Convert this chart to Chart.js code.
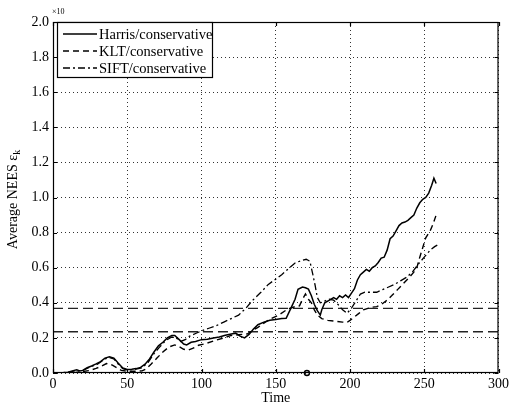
<!DOCTYPE html>
<html>
<head>
<meta charset="utf-8">
<script src="https://cdn.jsdelivr.net/npm/chart.js@4"></script>
<style>
  html, body { margin: 0; padding: 0; background: #fff; }
  #c { display: block; }
</style>
</head>
<body>
<canvas id="c" width="512" height="408"></canvas>
<script>
// Average NEES over time for three feature trackers (conservative update)
const harrisTime = [0, 5, 10, 13, 16, 18, 20, 23, 26, 29, 32, 35, 38, 41, 44, 47, 50, 53, 56, 59, 62, 65, 68, 71, 74, 77, 80, 82, 85, 88, 90, 93, 96, 100, 104, 108, 112, 116, 120, 123, 126, 129, 132, 135, 138, 142, 146, 150, 154, 157, 160, 163, 165, 168, 170, 172, 174, 176, 178, 180, 181, 183, 185, 187, 189, 191, 193, 195, 197, 199, 201, 203, 205, 207, 209, 211, 213, 215, 217, 219, 221, 223, 225, 227, 229, 231, 233, 235, 237, 239, 241, 243, 245, 247, 249, 251, 253, 255, 256.5, 258];
const harrisNees = [0, 0, 0.005, 0.012, 0.018, 0.012, 0.015, 0.03, 0.04, 0.052, 0.065, 0.085, 0.092, 0.085, 0.055, 0.028, 0.02, 0.021, 0.025, 0.032, 0.05, 0.08, 0.12, 0.155, 0.175, 0.2, 0.214, 0.214, 0.19, 0.165, 0.16, 0.175, 0.18, 0.19, 0.192, 0.2, 0.205, 0.215, 0.222, 0.227, 0.21, 0.2, 0.22, 0.25, 0.275, 0.29, 0.3, 0.305, 0.31, 0.312, 0.365, 0.42, 0.477, 0.49, 0.486, 0.478, 0.44, 0.39, 0.355, 0.33, 0.36, 0.4, 0.41, 0.42, 0.43, 0.42, 0.44, 0.43, 0.445, 0.43, 0.455, 0.48, 0.53, 0.56, 0.575, 0.59, 0.58, 0.6, 0.61, 0.63, 0.655, 0.66, 0.7, 0.765, 0.78, 0.81, 0.84, 0.855, 0.86, 0.87, 0.885, 0.9, 0.94, 0.97, 0.99, 1.0, 1.025, 1.07, 1.11, 1.08];

const kltTime = [0, 10, 15, 20, 25, 29, 33, 36, 40, 43, 46, 50, 55, 60, 63, 66, 70, 74, 78, 82, 85, 88, 91, 94, 98, 103, 109, 115, 120, 125, 131, 134, 138, 143, 147, 152, 158, 163, 166, 168, 170, 172, 174, 176, 178, 181, 185, 190, 195, 198, 200, 203, 206, 209, 212, 215, 218, 221, 225, 228, 232, 236, 240, 243, 245, 247, 249, 251, 254, 256, 258];
const kltNees = [0, 0, 0.003, 0.008, 0.015, 0.026, 0.04, 0.054, 0.045, 0.03, 0.015, 0.01, 0.01, 0.012, 0.025, 0.05, 0.085, 0.12, 0.148, 0.16, 0.15, 0.135, 0.13, 0.14, 0.158, 0.168, 0.185, 0.2, 0.214, 0.218, 0.223, 0.24, 0.26, 0.29, 0.31, 0.33, 0.364, 0.378, 0.383, 0.42, 0.45, 0.42, 0.4, 0.36, 0.33, 0.31, 0.3, 0.295, 0.29, 0.288, 0.3, 0.32, 0.34, 0.36, 0.368, 0.375, 0.378, 0.39, 0.415, 0.44, 0.475, 0.51, 0.545, 0.575, 0.6, 0.66, 0.715, 0.77, 0.81, 0.85, 0.9];

const siftTime = [0, 10, 15, 20, 25, 30, 35, 38, 41, 44, 47, 50, 55, 60, 64, 68, 72, 76, 80, 83, 86, 89, 92, 96, 100, 105, 110, 115, 120, 125, 130, 134, 140, 145, 150, 154, 158, 163, 167, 170.5, 173, 175, 176.5, 178, 180, 183, 186, 189, 192, 195, 198, 201, 204, 207, 210, 214, 218, 222, 226, 230, 234, 238, 242, 246, 250, 254, 257, 259];
const siftNees = [0, 0.004, 0.012, 0.014, 0.035, 0.05, 0.08, 0.088, 0.08, 0.05, 0.025, 0.018, 0.02, 0.03, 0.06, 0.11, 0.15, 0.185, 0.205, 0.2, 0.18, 0.19, 0.21, 0.225, 0.24, 0.255, 0.27, 0.29, 0.31, 0.33, 0.37, 0.41, 0.46, 0.505, 0.535, 0.56, 0.59, 0.627, 0.64, 0.648, 0.637, 0.56, 0.5, 0.43, 0.4, 0.41, 0.42, 0.415, 0.39, 0.36, 0.34, 0.37, 0.41, 0.45, 0.46, 0.46, 0.46, 0.475, 0.49, 0.505, 0.525, 0.545, 0.575, 0.62, 0.66, 0.7, 0.72, 0.73];

// Consistency bounds (upper / lower)
const boundUpper = 0.368;
const boundLower = 0.235;
const boundSpan = [0, 300];

// Marked time instant on the axis
const markerTime = [171];
const markerValue = [0];

const xTicks = [0, 50, 100, 150, 200, 250, 300];
const yTickStep = 0.2;
const seriesNames = ['Harris/conservative', 'KLT/conservative', 'SIFT/conservative'];

const toPoints = (xs, ys) => xs.map((x, i) => ({ x: x, y: ys[i] }));
const SERIF = '"Liberation Serif", "DejaVu Serif", serif';

const lineStyles = [
  { dash: [], width: 1.5 },
  { dash: [6, 4], width: 1.4 },
  { dash: [7, 3, 2, 3], width: 1.3 }
];

const frame = {
  id: 'frame',
  afterDatasetsDraw(chart) {
    const { ctx, chartArea: a, scales } = chart;
    ctx.save();
    // axes box
    ctx.strokeStyle = '#000';
    ctx.lineWidth = 1.2;
    ctx.setLineDash([]);
    ctx.strokeRect(a.left + 0.5, a.top + 0.5, a.right - a.left - 1, a.bottom - a.top - 1);
    // inward tick marks
    const tl = 4;
    ctx.beginPath();
    scales.x.ticks.forEach(t => {
      const px = Math.round(scales.x.getPixelForValue(t.value)) + 0.5;
      ctx.moveTo(px, a.bottom); ctx.lineTo(px, a.bottom - tl);
      ctx.moveTo(px, a.top); ctx.lineTo(px, a.top + tl);
    });
    scales.y.ticks.forEach(t => {
      const py = Math.round(scales.y.getPixelForValue(t.value)) + 0.5;
      ctx.moveTo(a.left, py); ctx.lineTo(a.left + tl, py);
      ctx.moveTo(a.right, py); ctx.lineTo(a.right - tl, py);
    });
    ctx.stroke();

    // legend
    const lx = 57, ly = 22, lw = 155, lh = 55;
    ctx.fillStyle = '#fff';
    ctx.fillRect(lx, ly, lw, lh);
    ctx.lineWidth = 1.2;
    ctx.strokeRect(lx + 0.5, ly + 0.5, lw, lh);
    ctx.font = '14.5px ' + SERIF;
    ctx.textBaseline = 'middle';
    ctx.textAlign = 'left';
    seriesNames.forEach((name, i) => {
      const yy = ly + 12 + i * 17;
      ctx.beginPath();
      ctx.setLineDash(lineStyles[i].dash);
      ctx.lineWidth = lineStyles[i].width;
      ctx.strokeStyle = '#000';
      ctx.moveTo(63, yy); ctx.lineTo(97, yy);
      ctx.stroke();
      ctx.setLineDash([]);
      ctx.fillStyle = '#000';
      ctx.fillText(name, 99, yy + 1);
    });

    // exponent
    ctx.font = '8px ' + SERIF;
    ctx.textBaseline = 'alphabetic';
    ctx.fillText('\u00d710', 52, 14);

    // axis titles
    ctx.font = '14px ' + SERIF;
    ctx.textAlign = 'center';
    ctx.textBaseline = 'middle';
    ctx.fillText('Time', (a.left + a.right) / 2, 398);

    ctx.translate(13, (a.top + a.bottom) / 2 + 2);
    ctx.rotate(-Math.PI / 2);
    const main = 'Average NEES \u03b5';
    ctx.font = '14px ' + SERIF;
    const w1 = ctx.measureText(main).width;
    ctx.font = '10px ' + SERIF;
    const w2 = ctx.measureText('k').width;
    const start = -(w1 + w2) / 2;
    ctx.textAlign = 'left';
    ctx.font = '14px ' + SERIF;
    ctx.fillText(main, start, 0);
    ctx.font = '10px ' + SERIF;
    ctx.fillText('k', start + w1, 4);
    ctx.restore();
  }
};

const lineDs = (label, xs, ys, style) => ({
  label: label,
  data: toPoints(xs, ys),
  borderColor: '#000',
  borderWidth: style.width,
  borderDash: style.dash,
  pointRadius: 0,
  tension: 0,
  fill: false
});

new Chart(document.getElementById('c'), {
  type: 'line',
  data: {
    datasets: [
      lineDs(seriesNames[0], harrisTime, harrisNees, lineStyles[0]),
      lineDs(seriesNames[1], kltTime, kltNees, lineStyles[1]),
      lineDs(seriesNames[2], siftTime, siftNees, lineStyles[2]),
      {
        label: 'upper bound',
        data: toPoints(boundSpan, [boundUpper, boundUpper]),
        borderColor: '#222', borderWidth: 1.4, borderDash: [10, 5],
        pointRadius: 0, fill: false
      },
      {
        label: 'lower bound',
        data: toPoints(boundSpan, [boundLower, boundLower]),
        borderColor: '#222', borderWidth: 1.4, borderDash: [10, 5],
        pointRadius: 0, fill: false
      },
      {
        label: 'marker',
        data: toPoints(markerTime, markerValue),
        showLine: false,
        pointStyle: 'circle',
        pointRadius: 2.5,
        pointBorderColor: '#000',
        pointBackgroundColor: 'rgba(0,0,0,0)',
        pointBorderWidth: 1.4,
        clip: false
      }
    ]
  },
  options: {
    responsive: false,
    animation: false,
    events: [],
    layout: { padding: { top: 22, right: 10, left: 0, bottom: 0 } },
    plugins: { legend: { display: false }, tooltip: { enabled: false }, title: { display: false } },
    scales: {
      x: {
        type: 'linear',
        min: 0, max: 300,
        afterBuildTicks(scale) { scale.ticks = xTicks.map(v => ({ value: v })); },
        afterFit(scale) { scale.height = 35; },
        ticks: { color: '#000', font: { family: SERIF, size: 14 }, padding: 3, maxRotation: 0 },
        grid: { color: '#333', lineWidth: 1, drawTicks: false },
        border: { display: false, dash: [1, 3] }
      },
      y: {
        type: 'linear',
        min: 0, max: 2,
        afterFit(scale) { scale.width = 53; },
        ticks: {
          stepSize: yTickStep,
          color: '#000',
          font: { family: SERIF, size: 14 },
          padding: 4,
          callback: v => Number(v).toFixed(1)
        },
        grid: { color: '#333', lineWidth: 1, drawTicks: false },
        border: { display: false, dash: [1, 3] }
      }
    }
  },
  plugins: [frame]
});
</script>
</body>
</html>
